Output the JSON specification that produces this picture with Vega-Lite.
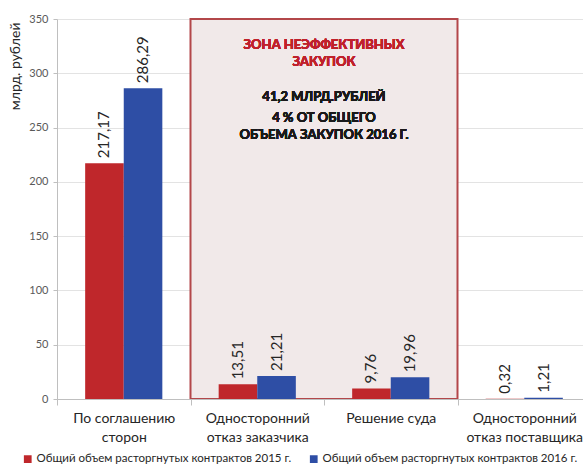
{
  "$schema": "https://vega.github.io/schema/vega-lite/v6.json",
  "width": 526,
  "height": 380,
  "autosize": "none",
  "padding": {"left": 57, "top": 19, "right": 0, "bottom": 71},
  "background": "white",
  "config": {
    "font": "Lato",
    "view": {"stroke": null},
    "locale": {"number": {"decimal": ",", "thousands": " ", "grouping": [3], "currency": ["", ""]}}
  },
  "data": {
    "values": [
      {"category": "По соглашению сторон", "series": "Общий объем расторгнутых контрактов 2015 г.", "value": 217.17},
      {"category": "По соглашению сторон", "series": "Общий объем расторгнутых контрактов 2016 г.", "value": 286.29},
      {"category": "Односторонний отказ заказчика", "series": "Общий объем расторгнутых контрактов 2015 г.", "value": 13.51},
      {"category": "Односторонний отказ заказчика", "series": "Общий объем расторгнутых контрактов 2016 г.", "value": 21.21},
      {"category": "Решение суда", "series": "Общий объем расторгнутых контрактов 2015 г.", "value": 9.76},
      {"category": "Решение суда", "series": "Общий объем расторгнутых контрактов 2016 г.", "value": 19.96},
      {"category": "Односторонний отказ поставщика", "series": "Общий объем расторгнутых контрактов 2015 г.", "value": 0.32},
      {"category": "Односторонний отказ поставщика", "series": "Общий объем расторгнутых контрактов 2016 г.", "value": 1.21}
    ]
  },
  "layer": [
    {
      "data": {"values": [{"from": "Односторонний отказ заказчика", "to": "Решение суда", "top": 350, "bottom": 0}]},
      "mark": {"type": "rect", "fill": "#f1e9e9", "stroke": "#b3474a", "strokeWidth": 2},
      "encoding": {
        "x": {"field": "from", "type": "nominal", "bandPosition": 0},
        "x2": {"field": "to", "bandPosition": 1},
        "y": {"field": "top", "type": "quantitative"},
        "y2": {"field": "bottom"}
      }
    },
    {
      "mark": {"type": "bar"},
      "encoding": {
        "x": {
          "field": "category", "type": "nominal", "sort": null,
          "scale": {"domain": ["По соглашению сторон", "Односторонний отказ заказчика", "Решение суда", "Односторонний отказ поставщика"], "range": [0, 534], "paddingInner": 0, "paddingOuter": 0},
          "axis": {
            "title": null, "labelAngle": 0, "tickBand": "extent", "labelAlign": "center",
            "domainColor": "#bfbfbf", "tickColor": "#bfbfbf", "tickSize": 6,
            "labelFontSize": 14, "labelColor": "#262626", "labelPadding": 6,
            "labelLineHeight": 19, "labelBaseline": "top",
            "labelExpr": "datum.value == 'По соглашению сторон' ? ['По соглашению', 'сторон'] : datum.value == 'Односторонний отказ заказчика' ? ['Односторонний', 'отказ заказчика'] : datum.value == 'Односторонний отказ поставщика' ? ['Односторонний', 'отказ поставщика'] : datum.value"
          }
        },
        "xOffset": {"field": "series", "type": "nominal", "scale": {"paddingInner": 0, "paddingOuter": 0.73}},
        "y": {
          "field": "value", "type": "quantitative",
          "scale": {"domain": [0, 350], "nice": false},
          "axis": {
            "title": "млрд. рублей", "titleFontSize": 14, "titleFontWeight": "normal", "titleColor": "#262626",
            "titleX": -42, "titleY": 3, "titleAlign": "right", "titleBaseline": "middle", "titleAngle": -90,
            "values": [0, 50, 100, 150, 200, 250, 300, 350],
            "labelFontSize": 11, "labelColor": "#595959", "labelPadding": 5,
            "domainColor": "#bfbfbf", "tickColor": "#bfbfbf", "tickSize": 4,
            "gridColor": "#e3e3e3"
          }
        },
        "color": {
          "field": "series", "type": "nominal",
          "scale": {"range": ["#bf272b", "#2e4ea5"]},
          "legend": {
            "title": null, "orient": "none", "direction": "horizontal", "legendX": -35, "legendY": 434,
            "symbolType": "square", "symbolSize": 60, "labelFontSize": 11.5, "labelColor": "#262626", "columnPadding": 16, "symbolOffset": 0, "labelOffset": 3, "labelLimit": 0
          }
        }
      }
    },
    {
      "mark": {"type": "text", "angle": -90, "align": "left", "baseline": "middle", "dx": 5, "fontSize": 15, "color": "#262626"},
      "encoding": {
        "x": {"field": "category", "type": "nominal", "sort": null},
        "xOffset": {"field": "series", "type": "nominal"},
        "y": {"field": "value", "type": "quantitative"},
        "text": {"field": "value", "type": "quantitative", "format": ".2f"}
      }
    },
    {
      "mark": {"type": "text", "fontSize": 13, "fontWeight": "bold", "color": "#c0212b", "align": "center", "baseline": "middle"},
      "encoding": {"x": {"datum": "Решение суда", "bandPosition": 0}, "y": {"datum": 326}, "text": {"value": "ЗОНА НЕЭФФЕКТИВНЫХ"}}
    },
    {
      "mark": {"type": "text", "fontSize": 13, "fontWeight": "bold", "color": "#c0212b", "align": "center", "baseline": "middle"},
      "encoding": {"x": {"datum": "Решение суда", "bandPosition": 0}, "y": {"datum": 310}, "text": {"value": "ЗАКУПОК"}}
    },
    {
      "mark": {"type": "text", "fontSize": 13, "fontWeight": "bold", "color": "#1a1a1a", "align": "center", "baseline": "middle"},
      "encoding": {"x": {"datum": "Решение суда", "bandPosition": 0}, "y": {"datum": 278}, "text": {"value": "41,2 МЛРД.РУБЛЕЙ"}}
    },
    {
      "mark": {"type": "text", "fontSize": 13, "fontWeight": "bold", "color": "#1a1a1a", "align": "center", "baseline": "middle"},
      "encoding": {"x": {"datum": "Решение суда", "bandPosition": 0}, "y": {"datum": 259}, "text": {"value": "4 % ОТ ОБЩЕГО"}}
    },
    {
      "mark": {"type": "text", "fontSize": 13, "fontWeight": "bold", "color": "#1a1a1a", "align": "center", "baseline": "middle"},
      "encoding": {"x": {"datum": "Решение суда", "bandPosition": 0}, "y": {"datum": 243}, "text": {"value": "ОБЪЕМА ЗАКУПОК 2016 Г."}}
    }
  ]
}
